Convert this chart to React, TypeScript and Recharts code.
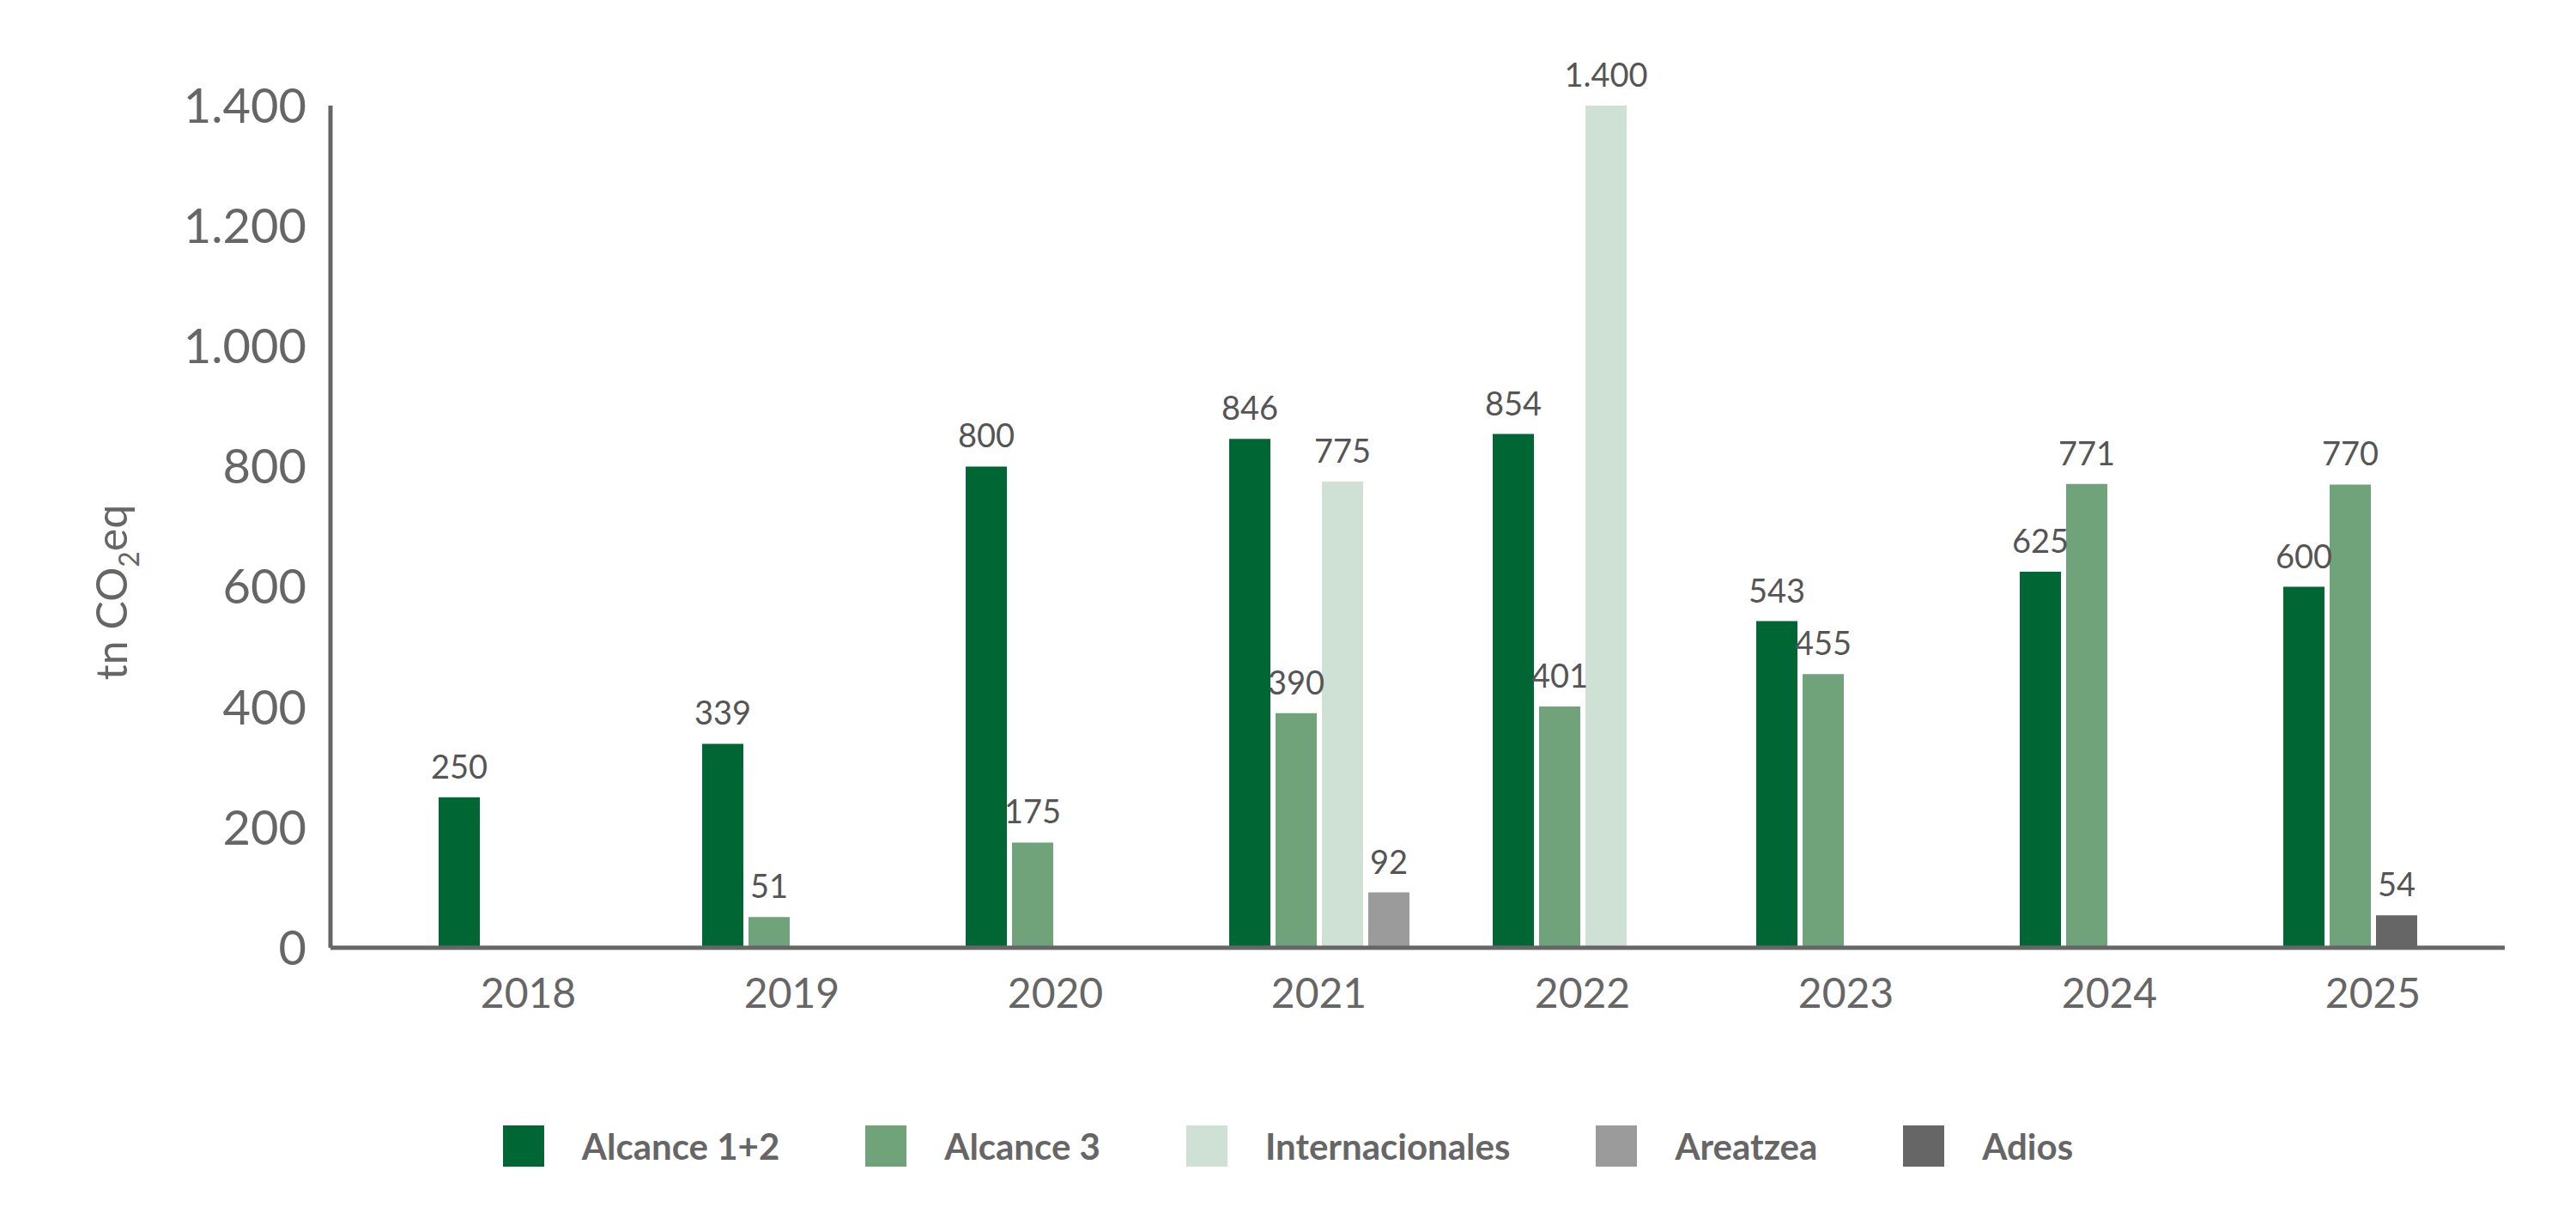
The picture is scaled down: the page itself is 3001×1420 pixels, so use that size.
import { BarChart, Bar, XAxis, YAxis, LabelList, Label } from "recharts";

const years = ["2018", "2019", "2020", "2021", "2022", "2023", "2024", "2025"];
const alcance12 = [250, 339, 800, 846, 854, 543, 625, 600];
const alcance3 = [null, 51, 175, 390, 401, 455, 771, 770];
const internacionales = [null, null, null, 775, 1400, null, null, null];
const areatzea = [null, null, null, 92, null, null, null, null];
const adios = [null, null, null, null, null, null, null, 54];
const yTicks = [0, 200, 400, 600, 800, 1000, 1200, 1400];

const data = years.map((year, i) => ({
  year,
  alcance12: alcance12[i],
  alcance3: alcance3[i],
  internacionales: internacionales[i],
  areatzea: areatzea[i],
  adios: adios[i],
}));

const series = [
  { key: "alcance12", name: "Alcance 1+2", color: "#006633" },
  { key: "alcance3", name: "Alcance 3", color: "#71a37b" },
  { key: "internacionales", name: "Internacionales", color: "#cfe0d4" },
  { key: "areatzea", name: "Areatzea", color: "#9b9b9b" },
  { key: "adios", name: "Adios", color: "#666666" },
];

const fmt = (v: number) => v.toLocaleString("de-DE");
const font = "Lato, 'Open Sans', sans-serif";

const YTitle = () => (
  <text x={0} y={0} transform="translate(148,690) rotate(-90)" textAnchor="middle" fill="#666" fontSize={50} fontFamily={font}>
    tn CO<tspan fontSize={32} dy={14}>2</tspan><tspan dy={-14}>eq</tspan>
  </text>
);

export default function App() {
  return (
    <div style={{ position: "absolute", left: 0, top: 0, width: 3001, height: 1420, background: "#fff", fontFamily: font }}>
      <BarChart width={3001} height={1260} data={data} margin={{ top: 123, right: 83, bottom: 26, left: 0 }} barSize={48} barGap={6}>
        <XAxis
          dataKey="year"
          padding={{ left: 77, right: 0 }}
          axisLine={{ stroke: "#666", strokeWidth: 5 }}
          tickLine={false}
          height={130}
          tickMargin={30}
          tick={{ fill: "#666", fontSize: 48, fontFamily: font }}
        />
        <YAxis
          width={385}
          domain={[0, 1400]}
          ticks={yTicks}
          tickFormatter={fmt}
          axisLine={{ stroke: "#666", strokeWidth: 5 }}
          tickLine={false}
          tickMargin={22}
          tick={{ fill: "#666", fontSize: 56, fontFamily: font }}
        >
          <Label content={<YTitle />} />
        </YAxis>
        {series.map((s) => (
          <Bar
            key={s.key}
            dataKey={s.key}
            name={s.name}
            fill={s.color}
            stackId={s.key === "internacionales" || s.key === "adios" ? "mid" : s.key}
            isAnimationActive={false}
          >
            <LabelList dataKey={s.key} position="top" offset={22} formatter={(v: any) => (v == null ? "" : fmt(v))} fill="#555" fontSize={38} fontFamily={font} />
          </Bar>
        ))}
      </BarChart>
      <div style={{ position: "absolute", top: 1310, left: 0, width: 3001, display: "flex", justifyContent: "center", gap: 100 }}>
        {series.map((s) => (
          <div key={s.key} style={{ display: "flex", alignItems: "center", gap: 44, fontWeight: 700, fontSize: 42, color: "#666" }}>
            <span style={{ width: 48, height: 48, background: s.color, display: "inline-block" }} />
            {s.name}
          </div>
        ))}
      </div>
    </div>
  );
}
